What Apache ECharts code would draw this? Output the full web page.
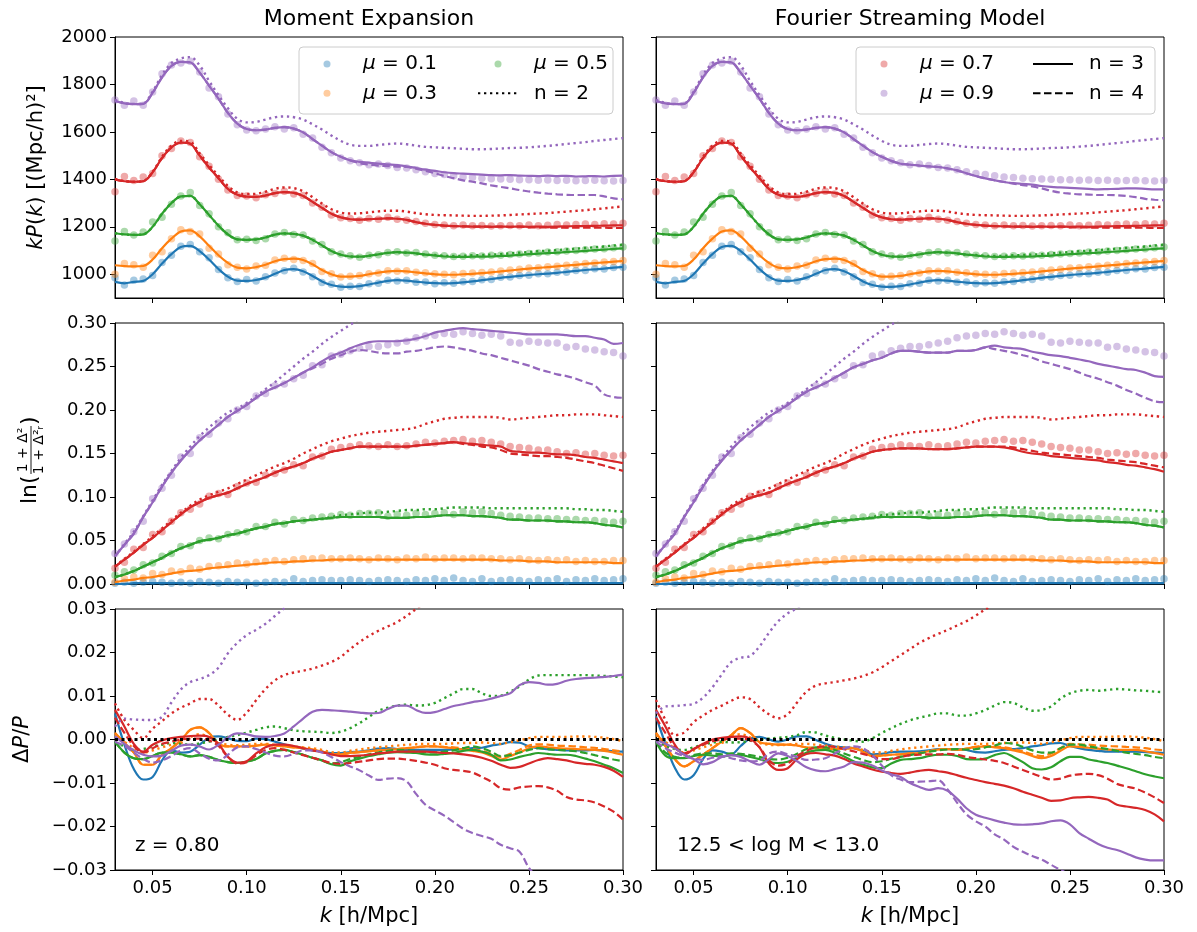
<!DOCTYPE html>
<html>
<head>
<meta charset="utf-8">
<script src="https://cdn.jsdelivr.net/npm/echarts@6/dist/echarts.min.js"></script>
<style>
  html, body { margin: 0; padding: 0; background: #fff; }
  #chart { width: 1197px; height: 932px; }
</style>
</head>
<body>
<div id="chart"></div>
<script>
// k grid [h/Mpc]
const K = [
  0.030, 0.035, 0.040, 0.045, 0.050, 0.055, 0.060, 0.065, 0.070, 0.075, 0.080,
  0.085, 0.090, 0.095, 0.100, 0.105, 0.110, 0.115, 0.120, 0.125, 0.130, 0.135,
  0.140, 0.145, 0.150, 0.155, 0.160, 0.165, 0.170, 0.175, 0.180, 0.185, 0.190,
  0.195, 0.200, 0.205, 0.210, 0.215, 0.220, 0.225, 0.230, 0.235, 0.240, 0.245,
  0.250, 0.255, 0.260, 0.265, 0.270, 0.275, 0.280, 0.285, 0.290, 0.295, 0.300
];

const X_TICKS = [0.05, 0.10, 0.15, 0.20, 0.25, 0.30];
const KP_TICKS = [1000, 1200, 1400, 1600, 1800, 2000];
const LN_TICKS = [0, 0.05, 0.10, 0.15, 0.20, 0.25, 0.30];
const DP_TICKS = [-0.03, -0.02, -0.01, 0, 0.01, 0.02, 0.03];

// ---- kP(k): simulation points ----
const kp_pts_01 = [
  985, 955, 975, 980, 995, 1050, 1080, 1118, 1125, 1095, 1070,
  1020, 985, 970, 978, 972, 990, 1005, 1015, 1025, 1010, 990,
  965, 958, 945, 950, 948, 960, 962, 975, 972, 975, 966,
  967, 960, 964, 962, 968, 970, 977, 978, 987, 988, 995,
  996, 1002, 1002, 1008, 1009, 1016, 1016, 1023, 1022, 1029, 1030
];
const kp_pts_03 = [
  1000, 1045, 1040, 1030, 1080, 1095, 1150, 1188, 1180, 1170, 1110,
  1085, 1040, 1030, 1022, 1035, 1038, 1060, 1068, 1062, 1058, 1045,
  1012, 1002, 988, 992, 995, 1002, 1005, 1015, 1013, 1015, 1008,
  1006, 1002, 1000, 998, 1003, 1005, 1007, 1010, 1014, 1018, 1021,
  1026, 1028, 1032, 1034, 1038, 1041, 1045, 1048, 1052, 1054, 1058
];
const kp_pts_05 = [
  1140, 1180, 1165, 1178, 1220, 1240, 1295, 1330, 1345, 1290, 1255,
  1200, 1175, 1145, 1148, 1142, 1150, 1170, 1176, 1168, 1165, 1140,
  1125, 1095, 1085, 1078, 1072, 1080, 1082, 1092, 1095, 1090, 1092,
  1085, 1080, 1078, 1075, 1076, 1078, 1077, 1080, 1080, 1083, 1085,
  1088, 1090, 1094, 1095, 1098, 1100, 1103, 1106, 1108, 1112, 1115
];
const kp_pts_07 = [
  1348, 1412, 1395, 1410, 1425, 1500, 1530, 1562, 1555, 1495, 1455,
  1400, 1355, 1332, 1330, 1322, 1335, 1340, 1350, 1338, 1332, 1300,
  1282, 1250, 1238, 1235, 1228, 1235, 1232, 1240, 1232, 1228, 1222,
  1215, 1210, 1208, 1205, 1208, 1204, 1206, 1203, 1205, 1206, 1204,
  1208, 1205, 1207, 1210, 1208, 1210, 1212, 1210, 1213, 1212, 1215
];
const kp_pts_09 = [
  1735, 1712, 1730, 1712, 1768, 1845, 1882, 1890, 1898, 1852, 1785,
  1748, 1675, 1630, 1608, 1605, 1612, 1622, 1612, 1618, 1590, 1574,
  1535, 1512, 1490, 1478, 1470, 1462, 1465, 1458, 1450, 1448, 1440,
  1432, 1425, 1420, 1415, 1410, 1408, 1405, 1403, 1402, 1400, 1398,
  1398, 1396, 1397, 1395, 1396, 1394, 1395, 1396, 1394, 1393, 1395
];

// ---- kP(k): models ----
const kp_n3_01 = [
  968, 962, 968, 972, 1000, 1045, 1085, 1115, 1120, 1098, 1062,
  1022, 990, 973, 972, 976, 986, 1002, 1018, 1022, 1013, 993,
  970, 955, 948, 947, 950, 957, 965, 972, 975, 973, 969,
  965, 963, 962, 963, 966, 970, 975, 980, 985, 989, 993,
  997, 1000, 1003, 1006, 1010, 1014, 1018, 1021, 1024, 1028, 1031
];
const kp_n3_03 = [
  1038, 1034, 1033, 1035, 1062, 1110, 1150, 1180, 1185, 1160, 1120,
  1080, 1048, 1028, 1025, 1030, 1040, 1055, 1064, 1066, 1060, 1042,
  1018, 1000, 990, 990, 993, 1000, 1007, 1012, 1014, 1012, 1008,
  1004, 1000, 998, 998, 1000, 1002, 1005, 1008, 1012, 1016, 1020,
  1024, 1027, 1030, 1033, 1037, 1040, 1044, 1047, 1050, 1053, 1056
];
const kp_n3_05 = [
  1173, 1168, 1166, 1168, 1200, 1255, 1300, 1328, 1330, 1295, 1250,
  1205, 1168, 1147, 1145, 1147, 1155, 1167, 1172, 1170, 1163, 1145,
  1122, 1098, 1082, 1075, 1074, 1078, 1084, 1090, 1093, 1091, 1088,
  1083, 1079, 1075, 1073, 1073, 1074, 1074, 1075, 1077, 1079, 1082,
  1085, 1087, 1089, 1091, 1094, 1096, 1099, 1102, 1104, 1107, 1109
];
const kp_n2_05 = [
  1173, 1168, 1166, 1168, 1200, 1255, 1300, 1328, 1330, 1295, 1250,
  1205, 1168, 1147, 1145, 1147, 1155, 1167, 1172, 1170, 1163, 1145,
  1122, 1098, 1082, 1075, 1074, 1078, 1084, 1090, 1093, 1091, 1088,
  1083, 1081, 1078, 1077, 1078, 1080, 1081, 1083, 1085, 1088, 1091,
  1094, 1097, 1099, 1102, 1105, 1108, 1111, 1114, 1117, 1121, 1125
];
const kp_n3_07 = [
  1400, 1392, 1390, 1392, 1430, 1490, 1535, 1555, 1550, 1500, 1450,
  1405, 1360, 1335, 1327, 1326, 1332, 1342, 1346, 1343, 1330, 1305,
  1280, 1255, 1240, 1232, 1230, 1232, 1234, 1236, 1234, 1229, 1220,
  1213, 1208, 1205, 1203, 1202, 1201, 1201, 1200, 1201, 1200, 1201,
  1200, 1201, 1200, 1201, 1202, 1203, 1203, 1204, 1205, 1206, 1206
];
const kp_n2_07 = [
  1402, 1393, 1390, 1393, 1432, 1495, 1542, 1562, 1558, 1510, 1460,
  1415, 1372, 1345, 1338, 1339, 1348, 1360, 1366, 1363, 1350, 1325,
  1298, 1274, 1260, 1256, 1257, 1261, 1265, 1268, 1268, 1264, 1258,
  1253, 1250, 1249, 1248, 1247, 1246, 1246, 1247, 1248, 1250, 1252,
  1254, 1256, 1258, 1261, 1264, 1267, 1270, 1274, 1278, 1282, 1286
];
const kp_n4_07 = [
  1400, 1392, 1390, 1392, 1430, 1490, 1535, 1555, 1550, 1500, 1450,
  1405, 1360, 1335, 1327, 1326, 1332, 1342, 1346, 1343, 1330, 1305,
  1280, 1255, 1240, 1232, 1230, 1232, 1234, 1236, 1234, 1229, 1220,
  1213, 1208, 1205, 1203, 1202, 1201, 1201, 1200, 1201, 1200, 1201,
  1198, 1198, 1197, 1197, 1197, 1197, 1196, 1196, 1196, 1195, 1195
];
const kp_n3_09_me = [
  1730, 1720, 1717, 1718, 1765, 1830, 1878, 1895, 1893, 1850, 1795,
  1740, 1680, 1635, 1612, 1607, 1610, 1617, 1620, 1614, 1598, 1570,
  1542, 1515, 1495, 1480, 1474, 1470, 1466, 1463, 1460, 1455, 1448,
  1441, 1436, 1430, 1426, 1424, 1422, 1420, 1418, 1417, 1418, 1416,
  1415, 1414, 1416, 1414, 1415, 1412, 1413, 1414, 1412, 1415, 1416
];
const kp_n3_09_fs = [
  1730, 1720, 1717, 1718, 1765, 1830, 1878, 1895, 1893, 1850, 1795,
  1740, 1680, 1635, 1612, 1607, 1610, 1617, 1620, 1614, 1598, 1570,
  1542, 1515, 1495, 1478, 1466, 1462, 1458, 1455, 1452, 1446, 1438,
  1426, 1414, 1404, 1396, 1389, 1384, 1381, 1378, 1372, 1368, 1366,
  1364, 1362, 1360, 1358, 1359, 1360, 1362, 1362, 1360, 1358, 1358
];
const kp_n2_09 = [
  1735, 1722, 1718, 1720, 1770, 1840, 1890, 1910, 1915, 1880, 1815,
  1755, 1700, 1655, 1640, 1642, 1652, 1662, 1665, 1662, 1652, 1632,
  1610, 1585, 1562, 1546, 1541, 1541, 1545, 1549, 1551, 1548, 1542,
  1537, 1535, 1533, 1531, 1529, 1527, 1527, 1528, 1530, 1532, 1533,
  1535, 1538, 1541, 1545, 1549, 1553, 1557, 1562, 1566, 1570, 1574
];
const kp_n4_09_me = [
  1730, 1720, 1717, 1718, 1765, 1830, 1878, 1895, 1893, 1850, 1795,
  1740, 1680, 1635, 1612, 1607, 1610, 1617, 1620, 1614, 1598, 1570,
  1542, 1515, 1495, 1480, 1468, 1462, 1458, 1456, 1454, 1452, 1445,
  1436, 1426, 1414, 1405, 1396, 1390, 1383, 1375, 1368, 1362, 1355,
  1349, 1344, 1340, 1337, 1335, 1334, 1334, 1334, 1328, 1320, 1316
];
const kp_n4_09_fs = [
  1730, 1720, 1717, 1718, 1765, 1830, 1878, 1895, 1893, 1850, 1795,
  1740, 1680, 1635, 1612, 1607, 1610, 1617, 1620, 1614, 1598, 1570,
  1542, 1515, 1495, 1478, 1466, 1462, 1458, 1455, 1452, 1446, 1438,
  1426, 1414, 1404, 1396, 1389, 1382, 1376, 1370, 1362, 1352, 1344,
  1340, 1337, 1336, 1334, 1334, 1333, 1330, 1325, 1318, 1314, 1312
];

// ---- ln((1+D^2)/(1+Dr^2)): simulation points ----
const ln_pts_01 = [
  0.001, 0.002, 0.001, 0.002, 0.003, 0.002, 0.001, 0.002, 0.001, 0.003, 0.002,
  0.001, 0.003, 0.002, 0.002, 0.001, 0.002, 0.003, 0.002, 0.006, 0.003, 0.004,
  0.005, 0.004, 0.004, 0.005, 0.004, 0.003, 0.004, 0.005, 0.004, 0.003, 0.005,
  0.004, 0.006, 0.004, 0.007, 0.004, 0.003, 0.006, 0.003, 0.004, 0.005, 0.004,
  0.003, 0.005, 0.004, 0.006, 0.003, 0.005, 0.004, 0.006, 0.004, 0.005, 0.006
];
const ln_pts_03 = [
  0.002, 0.006, 0.008, 0.007, 0.012, 0.011, 0.015, 0.014, 0.018, 0.017, 0.020,
  0.021, 0.022, 0.024, 0.023, 0.025, 0.026, 0.027, 0.026, 0.028, 0.029, 0.029,
  0.030, 0.029, 0.029, 0.030, 0.029, 0.028, 0.030, 0.029, 0.028, 0.030, 0.029,
  0.031, 0.029, 0.030, 0.030, 0.029, 0.030, 0.030, 0.029, 0.029, 0.028, 0.029,
  0.028, 0.027, 0.028, 0.027, 0.028, 0.026, 0.027, 0.026, 0.026, 0.027, 0.027
];
const ln_pts_05 = [
  0.010, 0.014, 0.016, 0.022, 0.024, 0.032, 0.035, 0.043, 0.044, 0.050, 0.053,
  0.052, 0.057, 0.059, 0.060, 0.066, 0.066, 0.071, 0.069, 0.074, 0.073, 0.076,
  0.077, 0.078, 0.080, 0.079, 0.081, 0.081, 0.082, 0.078, 0.080, 0.079, 0.081,
  0.080, 0.081, 0.082, 0.080, 0.083, 0.082, 0.083, 0.081, 0.079, 0.078, 0.077,
  0.076, 0.076, 0.075, 0.075, 0.074, 0.074, 0.073, 0.073, 0.072, 0.071, 0.072
];
const ln_pts_07 = [
  0.018, 0.025, 0.040, 0.042, 0.057, 0.060, 0.072, 0.082, 0.086, 0.092, 0.101,
  0.104, 0.103, 0.112, 0.116, 0.117, 0.125, 0.127, 0.131, 0.137, 0.136, 0.146,
  0.147, 0.155, 0.157, 0.158, 0.160, 0.159, 0.158, 0.160, 0.158, 0.159, 0.161,
  0.163, 0.162, 0.164, 0.165, 0.166, 0.164, 0.165, 0.163, 0.161, 0.158, 0.157,
  0.156, 0.154, 0.154, 0.152, 0.150, 0.151, 0.149, 0.150, 0.148, 0.147, 0.148
];
const ln_pts_09 = [
  0.035, 0.046, 0.060, 0.072, 0.098, 0.110, 0.125, 0.146, 0.150, 0.168, 0.172,
  0.185, 0.190, 0.200, 0.204, 0.216, 0.219, 0.228, 0.230, 0.236, 0.240, 0.251,
  0.252, 0.262, 0.264, 0.268, 0.271, 0.273, 0.273, 0.275, 0.277, 0.279, 0.283,
  0.285, 0.286, 0.288, 0.287, 0.290, 0.288, 0.286, 0.287, 0.285, 0.278, 0.277,
  0.279, 0.278, 0.277, 0.277, 0.272, 0.273, 0.270, 0.269, 0.267, 0.266, 0.262
];

// ---- ln ratio: models ----
const ln_n3_01 = [
  0.000, 0.000, 0.001, 0.001, 0.001, 0.001, 0.001, 0.001, 0.001, 0.001, 0.001,
  0.001, 0.001, 0.001, 0.001, 0.001, 0.001, 0.001, 0.001, 0.001, 0.001, 0.001,
  0.001, 0.001, 0.001, 0.001, 0.001, 0.001, 0.001, 0.001, 0.001, 0.001, 0.001,
  0.001, 0.001, 0.001, 0.001, 0.001, 0.001, 0.001, 0.001, 0.001, 0.001, 0.001,
  0.001, 0.001, 0.001, 0.001, 0.001, 0.001, 0.001, 0.001, 0.001, 0.001, 0.001
];
const ln_n3_03 = [
  0.002, 0.004, 0.005, 0.007, 0.008, 0.010, 0.012, 0.014, 0.015, 0.016, 0.018,
  0.019, 0.020, 0.021, 0.022, 0.023, 0.024, 0.025, 0.025, 0.026, 0.026, 0.027,
  0.027, 0.028, 0.028, 0.028, 0.028, 0.028, 0.028, 0.028, 0.028, 0.028, 0.028,
  0.028, 0.028, 0.028, 0.028, 0.028, 0.028, 0.028, 0.028, 0.027, 0.027, 0.027,
  0.026, 0.026, 0.026, 0.025, 0.025, 0.025, 0.025, 0.025, 0.025, 0.024, 0.024
];
const ln_n3_05 = [
  0.008, 0.011, 0.015, 0.020, 0.025, 0.030, 0.036, 0.041, 0.045, 0.049, 0.051,
  0.053, 0.056, 0.058, 0.061, 0.064, 0.066, 0.069, 0.070, 0.072, 0.073, 0.074,
  0.075, 0.076, 0.077, 0.077, 0.077, 0.077, 0.077, 0.076, 0.076, 0.076, 0.077,
  0.077, 0.078, 0.079, 0.079, 0.079, 0.078, 0.078, 0.077, 0.076, 0.074, 0.074,
  0.073, 0.073, 0.073, 0.072, 0.072, 0.071, 0.071, 0.070, 0.068, 0.067, 0.065
];
const ln_n2_05 = [
  0.008, 0.011, 0.015, 0.020, 0.025, 0.030, 0.036, 0.041, 0.045, 0.049, 0.051,
  0.053, 0.056, 0.058, 0.061, 0.064, 0.066, 0.069, 0.070, 0.072, 0.073, 0.074,
  0.075, 0.077, 0.079, 0.080, 0.081, 0.082, 0.082, 0.083, 0.084, 0.085, 0.085,
  0.086, 0.086, 0.087, 0.088, 0.088, 0.088, 0.088, 0.087, 0.087, 0.087, 0.087,
  0.087, 0.087, 0.087, 0.087, 0.087, 0.086, 0.086, 0.085, 0.085, 0.084, 0.083
];
const ln_n3_07_me = [
  0.020, 0.028, 0.036, 0.045, 0.053, 0.062, 0.071, 0.080, 0.088, 0.094, 0.099,
  0.102, 0.105, 0.110, 0.115, 0.119, 0.123, 0.128, 0.132, 0.135, 0.139, 0.144,
  0.148, 0.152, 0.154, 0.156, 0.158, 0.158, 0.158, 0.158, 0.158, 0.158, 0.159,
  0.160, 0.161, 0.162, 0.163, 0.162, 0.161, 0.160, 0.159, 0.158, 0.153, 0.152,
  0.151, 0.151, 0.150, 0.149, 0.149, 0.148, 0.146, 0.145, 0.143, 0.141, 0.139
];
const ln_n4_07_me = [
  0.020, 0.028, 0.036, 0.045, 0.053, 0.062, 0.071, 0.080, 0.088, 0.094, 0.099,
  0.102, 0.105, 0.110, 0.115, 0.119, 0.123, 0.128, 0.132, 0.135, 0.139, 0.144,
  0.148, 0.152, 0.154, 0.156, 0.158, 0.158, 0.158, 0.158, 0.158, 0.158, 0.159,
  0.160, 0.161, 0.162, 0.163, 0.161, 0.160, 0.158, 0.157, 0.154, 0.150, 0.149,
  0.148, 0.147, 0.147, 0.146, 0.145, 0.143, 0.141, 0.139, 0.136, 0.133, 0.130
];
const ln_n3_07_fs = [
  0.020, 0.028, 0.036, 0.045, 0.053, 0.062, 0.071, 0.080, 0.088, 0.094, 0.099,
  0.102, 0.105, 0.110, 0.115, 0.119, 0.123, 0.128, 0.132, 0.135, 0.139, 0.144,
  0.148, 0.152, 0.154, 0.155, 0.156, 0.156, 0.156, 0.155, 0.155, 0.155, 0.156,
  0.157, 0.158, 0.158, 0.158, 0.157, 0.155, 0.152, 0.150, 0.149, 0.147, 0.146,
  0.145, 0.144, 0.143, 0.142, 0.140, 0.139, 0.137, 0.136, 0.134, 0.132, 0.129
];
const ln_n4_07_fs = [
  0.020, 0.028, 0.036, 0.045, 0.053, 0.062, 0.071, 0.080, 0.088, 0.094, 0.099,
  0.102, 0.105, 0.110, 0.115, 0.119, 0.123, 0.128, 0.132, 0.135, 0.139, 0.144,
  0.148, 0.152, 0.154, 0.155, 0.156, 0.156, 0.156, 0.155, 0.155, 0.155, 0.156,
  0.157, 0.158, 0.158, 0.158, 0.158, 0.157, 0.155, 0.153, 0.151, 0.150, 0.149,
  0.148, 0.147, 0.146, 0.145, 0.143, 0.142, 0.141, 0.140, 0.138, 0.136, 0.134
];
const ln_n2_07 = [
  0.020, 0.029, 0.037, 0.046, 0.055, 0.064, 0.073, 0.082, 0.090, 0.097, 0.102,
  0.106, 0.110, 0.115, 0.120, 0.125, 0.130, 0.135, 0.139, 0.144, 0.150, 0.155,
  0.160, 0.164, 0.167, 0.170, 0.172, 0.174, 0.175, 0.176, 0.177, 0.178, 0.180,
  0.184, 0.187, 0.190, 0.191, 0.192, 0.192, 0.192, 0.192, 0.191, 0.189, 0.190,
  0.191, 0.192, 0.193, 0.194, 0.194, 0.195, 0.195, 0.195, 0.194, 0.193, 0.192
];
const ln_n3_09_me = [
  0.032, 0.045, 0.058, 0.077, 0.094, 0.112, 0.128, 0.142, 0.154, 0.165, 0.174,
  0.183, 0.192, 0.199, 0.206, 0.214, 0.221, 0.226, 0.231, 0.237, 0.243, 0.249,
  0.256, 0.262, 0.266, 0.271, 0.275, 0.278, 0.279, 0.279, 0.279, 0.280, 0.282,
  0.285, 0.289, 0.291, 0.293, 0.294, 0.293, 0.292, 0.291, 0.290, 0.289, 0.288,
  0.287, 0.287, 0.287, 0.287, 0.286, 0.285, 0.285, 0.283, 0.281, 0.276, 0.277
];
const ln_n4_09_me = [
  0.032, 0.045, 0.058, 0.077, 0.094, 0.112, 0.128, 0.142, 0.154, 0.165, 0.174,
  0.183, 0.192, 0.199, 0.206, 0.214, 0.221, 0.226, 0.231, 0.237, 0.243, 0.248,
  0.253, 0.259, 0.263, 0.267, 0.269, 0.268, 0.266, 0.265, 0.265, 0.267, 0.268,
  0.270, 0.272, 0.273, 0.272, 0.270, 0.268, 0.265, 0.263, 0.260, 0.257, 0.254,
  0.251, 0.247, 0.244, 0.241, 0.239, 0.236, 0.232, 0.228, 0.218, 0.215, 0.214
];
const ln_n3_09_fs = [
  0.032, 0.045, 0.058, 0.077, 0.094, 0.112, 0.128, 0.142, 0.154, 0.165, 0.174,
  0.183, 0.192, 0.199, 0.206, 0.214, 0.221, 0.226, 0.231, 0.237, 0.243, 0.249,
  0.253, 0.257, 0.260, 0.265, 0.268, 0.268, 0.267, 0.266, 0.266, 0.266, 0.268,
  0.268, 0.269, 0.272, 0.274, 0.272, 0.271, 0.270, 0.267, 0.265, 0.263, 0.262,
  0.260, 0.258, 0.256, 0.253, 0.251, 0.249, 0.247, 0.246, 0.243, 0.239, 0.238
];
const ln_n4_09_fs = [
  0.032, 0.045, 0.058, 0.077, 0.094, 0.112, 0.128, 0.142, 0.154, 0.165, 0.174,
  0.183, 0.192, 0.199, 0.206, 0.214, 0.221, 0.226, 0.231, 0.237, 0.243, 0.249,
  0.253, 0.257, 0.260, 0.265, 0.268, 0.268, 0.267, 0.266, 0.266, 0.266, 0.268,
  0.268, 0.269, 0.272, 0.270, 0.268, 0.266, 0.263, 0.260, 0.256, 0.253, 0.250,
  0.247, 0.243, 0.239, 0.236, 0.232, 0.228, 0.223, 0.219, 0.214, 0.210, 0.209
];
const ln_n2_09 = [
  0.032, 0.046, 0.060, 0.078, 0.096, 0.114, 0.130, 0.145, 0.158, 0.170, 0.180,
  0.189, 0.197, 0.202, 0.208, 0.216, 0.224, 0.232, 0.241, 0.250, 0.259, 0.267,
  0.276, 0.284, 0.291, 0.298, 0.305, 0.312
];

// ---- Delta P / P: Moment Expansion ----
const dp_n3_01_me = [
  0.0060, -0.0012, -0.0068, -0.0092, -0.0086, -0.0048, -0.0025, -0.0030, -0.0028, -0.0012, 0.0004,
  0.0007, 0.0003, -0.0003, -0.0004, 0.0002, 0.0001, -0.0005, -0.0011, -0.0016, -0.0021, -0.0025,
  -0.0028, -0.0031, -0.0031, -0.0029, -0.0028, -0.0025, -0.0021, -0.0020, -0.0022, -0.0024, -0.0024,
  -0.0024, -0.0024, -0.0024, -0.0023, -0.0022, -0.0020, -0.0019, -0.0014, -0.0011, -0.0006, -0.0007,
  -0.0016, -0.0020, -0.0022, -0.0024, -0.0025, -0.0025, -0.0025, -0.0024, -0.0025, -0.0027, -0.0028
];
const dp_n3_03_me = [
  0.0015, -0.0008, -0.0030, -0.0058, -0.0058, -0.0035, -0.0020, -0.0002, 0.0022, 0.0028, 0.0015,
  -0.0010, -0.0016, -0.0016, -0.0016, -0.0014, -0.0012, -0.0014, -0.0016, -0.0018, -0.0020, -0.0023,
  -0.0028, -0.0034, -0.0034, -0.0031, -0.0029, -0.0027, -0.0025, -0.0024, -0.0022, -0.0020, -0.0018,
  -0.0016, -0.0016, -0.0018, -0.0020, -0.0023, -0.0026, -0.0030, -0.0038, -0.0046, -0.0038, -0.0030,
  -0.0020, -0.0016, -0.0018, -0.0020, -0.0021, -0.0022, -0.0023, -0.0024, -0.0026, -0.0030, -0.0035
];
const dp_n4_03_me = [
  0.0015, -0.0008, -0.0030, -0.0058, -0.0058, -0.0035, -0.0020, -0.0002, 0.0022, 0.0028, 0.0015,
  -0.0010, -0.0016, -0.0016, -0.0016, -0.0014, -0.0012, -0.0014, -0.0016, -0.0018, -0.0020, -0.0023,
  -0.0028, -0.0034, -0.0034, -0.0031, -0.0029, -0.0027, -0.0025, -0.0024, -0.0022, -0.0020, -0.0018,
  -0.0016, -0.0016, -0.0017, -0.0018, -0.0020, -0.0022, -0.0026, -0.0033, -0.0040, -0.0033, -0.0024,
  -0.0014, -0.0011, -0.0012, -0.0014, -0.0015, -0.0016, -0.0018, -0.0019, -0.0022, -0.0025, -0.0028
];
const dp_n2_03 = [
  0.0010, -0.0005, -0.0020, -0.0030, -0.0025, -0.0018, -0.0012, -0.0008, 0.0005, 0.0012, 0.0005,
  -0.0008, -0.0012, -0.0013, -0.0012, -0.0010, -0.0010, -0.0012, -0.0014, -0.0016, -0.0018, -0.0020,
  -0.0024, -0.0029, -0.0030, -0.0026, -0.0023, -0.0020, -0.0018, -0.0016, -0.0014, -0.0012, -0.0011,
  -0.0010, -0.0010, -0.0010, -0.0009, -0.0008, -0.0008, -0.0007, -0.0008, -0.0010, -0.0006, -0.0002,
  0.0003, 0.0006, 0.0006, 0.0006, 0.0006, 0.0007, 0.0007, 0.0006, 0.0004, 0.0001, -0.0004
];
const dp_n3_05_me = [
  -0.0005, -0.0030, -0.0043, -0.0045, -0.0038, -0.0030, -0.0030, -0.0034, -0.0039, -0.0036, -0.0040,
  -0.0047, -0.0052, -0.0054, -0.0051, -0.0045, -0.0032, -0.0026, -0.0024, -0.0029, -0.0035, -0.0042,
  -0.0048, -0.0057, -0.0060, -0.0050, -0.0044, -0.0038, -0.0034, -0.0030, -0.0029, -0.0030, -0.0031,
  -0.0034, -0.0035, -0.0033, -0.0031, -0.0026, -0.0024, -0.0028, -0.0035, -0.0048, -0.0046, -0.0040,
  -0.0035, -0.0031, -0.0033, -0.0035, -0.0035, -0.0038, -0.0044, -0.0050, -0.0058, -0.0066, -0.0077
];
const dp_n4_05_me = [
  -0.0005, -0.0030, -0.0043, -0.0045, -0.0038, -0.0030, -0.0030, -0.0034, -0.0039, -0.0036, -0.0040,
  -0.0047, -0.0052, -0.0054, -0.0051, -0.0045, -0.0032, -0.0026, -0.0024, -0.0029, -0.0035, -0.0042,
  -0.0048, -0.0055, -0.0052, -0.0045, -0.0040, -0.0034, -0.0030, -0.0026, -0.0024, -0.0025, -0.0027,
  -0.0029, -0.0030, -0.0028, -0.0025, -0.0020, -0.0016, -0.0020, -0.0028, -0.0038, -0.0036, -0.0030,
  -0.0024, -0.0020, -0.0022, -0.0024, -0.0025, -0.0027, -0.0031, -0.0036, -0.0041, -0.0046, -0.0050
];
const dp_n2_05_me = [
  -0.0008, -0.0015, -0.0024, -0.0022, -0.0016, -0.0012, -0.0008, -0.0010, -0.0012, -0.0009, -0.0005,
  0.0000, 0.0006, 0.0010, 0.0016, 0.0022, 0.0028, 0.0030, 0.0026, 0.0021, 0.0019, 0.0018,
  0.0017, 0.0015, 0.0018, 0.0026, 0.0038, 0.0052, 0.0066, 0.0073, 0.0078, 0.0080, 0.0078,
  0.0079, 0.0084, 0.0095, 0.0106, 0.0116, 0.0116, 0.0106, 0.0100, 0.0101, 0.0110, 0.0122,
  0.0138, 0.0147, 0.0148, 0.0148, 0.0148, 0.0148, 0.0148, 0.0147, 0.0146, 0.0145, 0.0143
];
const dp_n3_07_me = [
  0.0068, 0.0030, -0.0010, -0.0028, -0.0012, -0.0002, 0.0003, 0.0006, 0.0008, 0.0009, 0.0006,
  -0.0010, -0.0040, -0.0053, -0.0050, -0.0032, -0.0018, -0.0012, -0.0012, -0.0015, -0.0020, -0.0025,
  -0.0029, -0.0034, -0.0038, -0.0038, -0.0037, -0.0035, -0.0032, -0.0030, -0.0028, -0.0028, -0.0028,
  -0.0028, -0.0029, -0.0031, -0.0032, -0.0034, -0.0037, -0.0042, -0.0049, -0.0058, -0.0065, -0.0063,
  -0.0055, -0.0047, -0.0043, -0.0045, -0.0048, -0.0053, -0.0056, -0.0058, -0.0063, -0.0072, -0.0086
];
const dp_n4_07_me = [
  0.0050, 0.0015, -0.0015, -0.0030, -0.0020, -0.0010, -0.0005, 0.0000, 0.0002, 0.0002, -0.0002,
  -0.0015, -0.0040, -0.0055, -0.0052, -0.0036, -0.0024, -0.0020, -0.0024, -0.0030, -0.0036, -0.0042,
  -0.0048, -0.0054, -0.0056, -0.0054, -0.0051, -0.0048, -0.0045, -0.0044, -0.0044, -0.0046, -0.0049,
  -0.0053, -0.0058, -0.0066, -0.0070, -0.0072, -0.0076, -0.0086, -0.0097, -0.0112, -0.0115, -0.0110,
  -0.0108, -0.0107, -0.0110, -0.0118, -0.0132, -0.0138, -0.0140, -0.0145, -0.0154, -0.0166, -0.0184
];
const dp_n2_07_me = [
  0.0083, 0.0045, 0.0022, 0.0003, 0.0025, 0.0042, 0.0060, 0.0073, 0.0083, 0.0093, 0.0093,
  0.0078, 0.0057, 0.0045, 0.0062, 0.0090, 0.0116, 0.0136, 0.0148, 0.0154, 0.0158, 0.0163,
  0.0170, 0.0178, 0.0190, 0.0208, 0.0224, 0.0238, 0.0250, 0.0260, 0.0270, 0.0284, 0.0300,
  0.0315
];
const dp_n3_09_me = [
  0.0007, -0.0010, -0.0025, -0.0035, -0.0039, -0.0037, -0.0026, -0.0014, -0.0012, -0.0016, -0.0023,
  -0.0012, 0.0005, 0.0014, 0.0012, 0.0007, 0.0006, 0.0008, 0.0014, 0.0030, 0.0048, 0.0064,
  0.0068, 0.0067, 0.0066, 0.0064, 0.0062, 0.0060, 0.0061, 0.0070, 0.0078, 0.0078, 0.0068,
  0.0061, 0.0063, 0.0070, 0.0077, 0.0081, 0.0086, 0.0089, 0.0094, 0.0100, 0.0106, 0.0125,
  0.0132, 0.0130, 0.0126, 0.0128, 0.0135, 0.0139, 0.0141, 0.0142, 0.0144, 0.0146, 0.0149
];
const dp_n4_09_me = [
  -0.0005, -0.0015, -0.0030, -0.0045, -0.0053, -0.0048, -0.0038, -0.0025, -0.0020, -0.0032, -0.0044,
  -0.0048, -0.0035, -0.0018, -0.0016, -0.0022, -0.0030, -0.0037, -0.0039, -0.0033, -0.0025, -0.0025,
  -0.0030, -0.0040, -0.0052, -0.0062, -0.0071, -0.0083, -0.0093, -0.0090, -0.0089, -0.0096, -0.0125,
  -0.0150, -0.0163, -0.0175, -0.0190, -0.0205, -0.0215, -0.0222, -0.0228, -0.0242, -0.0250, -0.0258,
  -0.0295, -0.0320
];
const dp_n2_09_me = [
  0.0030, 0.0048, 0.0046, 0.0045, 0.0045, 0.0052, 0.0085, 0.0115, 0.0132, 0.0139, 0.0148,
  0.0165, 0.0198, 0.0222, 0.0240, 0.0252, 0.0266, 0.0284, 0.0302, 0.0320
];

// ---- Delta P / P: Fourier Streaming Model ----
const dp_n3_01_fs = [
  0.0053, -0.0010, -0.0065, -0.0092, -0.0082, -0.0045, -0.0025, -0.0028, -0.0034, -0.0015, 0.0002,
  0.0006, 0.0000, -0.0005, 0.0000, 0.0007, 0.0007, -0.0001, -0.0010, -0.0016, -0.0018, -0.0020,
  -0.0026, -0.0034, -0.0033, -0.0029, -0.0028, -0.0028, -0.0027, -0.0025, -0.0022, -0.0022, -0.0022,
  -0.0024, -0.0029, -0.0030, -0.0027, -0.0024, -0.0022, -0.0020, -0.0016, -0.0013, -0.0009, -0.0008,
  -0.0015, -0.0020, -0.0024, -0.0026, -0.0028, -0.0028, -0.0028, -0.0028, -0.0029, -0.0030, -0.0031
];
const dp_n3_03_fs = [
  0.0015, -0.0015, -0.0045, -0.0062, -0.0050, -0.0035, -0.0020, -0.0005, 0.0010, 0.0026, 0.0015,
  -0.0006, -0.0010, -0.0012, -0.0012, -0.0014, -0.0018, -0.0020, -0.0021, -0.0022, -0.0021, -0.0020,
  -0.0028, -0.0038, -0.0037, -0.0035, -0.0034, -0.0032, -0.0031, -0.0027, -0.0023, -0.0022, -0.0024,
  -0.0021, -0.0017, -0.0016, -0.0018, -0.0020, -0.0025, -0.0030, -0.0038, -0.0043, -0.0038, -0.0026,
  -0.0016, -0.0017, -0.0019, -0.0021, -0.0023, -0.0024, -0.0024, -0.0024, -0.0027, -0.0031, -0.0035
];
const dp_n4_03_fs = [
  0.0015, -0.0015, -0.0045, -0.0062, -0.0050, -0.0035, -0.0020, -0.0005, 0.0010, 0.0026, 0.0015,
  -0.0006, -0.0010, -0.0012, -0.0012, -0.0014, -0.0018, -0.0020, -0.0021, -0.0022, -0.0021, -0.0020,
  -0.0028, -0.0038, -0.0037, -0.0035, -0.0034, -0.0032, -0.0031, -0.0027, -0.0023, -0.0022, -0.0024,
  -0.0021, -0.0017, -0.0015, -0.0016, -0.0018, -0.0022, -0.0027, -0.0034, -0.0038, -0.0032, -0.0020,
  -0.0010, -0.0011, -0.0012, -0.0014, -0.0015, -0.0016, -0.0017, -0.0018, -0.0020, -0.0023, -0.0025
];
const dp_n3_05_fs = [
  -0.0005, -0.0037, -0.0043, -0.0043, -0.0038, -0.0035, -0.0037, -0.0039, -0.0036, -0.0036, -0.0040,
  -0.0045, -0.0052, -0.0054, -0.0051, -0.0042, -0.0030, -0.0025, -0.0024, -0.0030, -0.0039, -0.0050,
  -0.0058, -0.0064, -0.0066, -0.0055, -0.0047, -0.0045, -0.0043, -0.0038, -0.0035, -0.0035, -0.0038,
  -0.0045, -0.0046, -0.0044, -0.0036, -0.0031, -0.0040, -0.0052, -0.0066, -0.0069, -0.0064, -0.0050,
  -0.0040, -0.0040, -0.0046, -0.0050, -0.0054, -0.0060, -0.0066, -0.0073, -0.0080, -0.0085, -0.0089
];
const dp_n4_05_fs = [
  -0.0005, -0.0030, -0.0040, -0.0042, -0.0036, -0.0032, -0.0032, -0.0034, -0.0032, -0.0033, -0.0036,
  -0.0040, -0.0045, -0.0046, -0.0042, -0.0033, -0.0022, -0.0018, -0.0018, -0.0024, -0.0032, -0.0040,
  -0.0047, -0.0052, -0.0050, -0.0044, -0.0040, -0.0036, -0.0032, -0.0028, -0.0025, -0.0023, -0.0022,
  -0.0023, -0.0022, -0.0018, -0.0014, -0.0008, -0.0010, -0.0017, -0.0025, -0.0030, -0.0030, -0.0020,
  -0.0012, -0.0012, -0.0016, -0.0019, -0.0022, -0.0026, -0.0030, -0.0033, -0.0036, -0.0040, -0.0043
];
const dp_n2_05_fs = [
  -0.0005, -0.0014, -0.0022, -0.0024, -0.0018, -0.0012, -0.0007, -0.0005, -0.0007, -0.0006, -0.0003,
  0.0000, 0.0002, 0.0004, 0.0006, 0.0010, 0.0017, 0.0016, 0.0009, 0.0004, 0.0000, -0.0003,
  -0.0005, 0.0003, 0.0015, 0.0026, 0.0036, 0.0044, 0.0050, 0.0055, 0.0060, 0.0060, 0.0055,
  0.0055, 0.0060, 0.0068, 0.0078, 0.0086, 0.0084, 0.0074, 0.0066, 0.0068, 0.0076, 0.0094,
  0.0106, 0.0112, 0.0114, 0.0112, 0.0114, 0.0116, 0.0115, 0.0113, 0.0112, 0.0110, 0.0109
];
const dp_n3_07_fs = [
  0.0068, 0.0030, -0.0012, -0.0034, -0.0022, -0.0010, 0.0000, 0.0004, 0.0006, 0.0007, 0.0002,
  -0.0018, -0.0055, -0.0070, -0.0066, -0.0045, -0.0033, -0.0031, -0.0034, -0.0037, -0.0045, -0.0055,
  -0.0062, -0.0069, -0.0074, -0.0077, -0.0079, -0.0076, -0.0072, -0.0070, -0.0073, -0.0076, -0.0082,
  -0.0088, -0.0093, -0.0098, -0.0102, -0.0106, -0.0112, -0.0120, -0.0127, -0.0134, -0.0141, -0.0140,
  -0.0135, -0.0133, -0.0132, -0.0134, -0.0138, -0.0150, -0.0154, -0.0157, -0.0162, -0.0172, -0.0188
];
const dp_n4_07_fs = [
  0.0050, 0.0015, -0.0018, -0.0032, -0.0022, -0.0012, -0.0004, 0.0000, 0.0002, 0.0002, -0.0002,
  -0.0018, -0.0048, -0.0060, -0.0055, -0.0038, -0.0026, -0.0018, -0.0016, -0.0017, -0.0022, -0.0027,
  -0.0033, -0.0039, -0.0045, -0.0045, -0.0040, -0.0036, -0.0035, -0.0034, -0.0034, -0.0033, -0.0035,
  -0.0040, -0.0043, -0.0046, -0.0049, -0.0054, -0.0062, -0.0070, -0.0078, -0.0086, -0.0092, -0.0090,
  -0.0083, -0.0080, -0.0079, -0.0082, -0.0090, -0.0102, -0.0108, -0.0113, -0.0122, -0.0133, -0.0146
];
const dp_n2_07_fs = [
  0.0091, 0.0045, 0.0010, 0.0016, 0.0040, 0.0055, 0.0068, 0.0078, 0.0089, 0.0097, 0.0093,
  0.0074, 0.0058, 0.0049, 0.0058, 0.0085, 0.0110, 0.0124, 0.0129, 0.0132, 0.0136, 0.0140,
  0.0146, 0.0154, 0.0166, 0.0180, 0.0194, 0.0208, 0.0222, 0.0233, 0.0243, 0.0252, 0.0262,
  0.0272, 0.0285, 0.0299, 0.0312
];
const dp_n3_09_fs = [
  0.0000, -0.0010, -0.0020, -0.0035, -0.0045, -0.0057, -0.0052, -0.0040, -0.0036, -0.0040, -0.0050,
  -0.0058, -0.0045, -0.0032, -0.0038, -0.0050, -0.0064, -0.0071, -0.0073, -0.0068, -0.0062, -0.0052,
  -0.0053, -0.0060, -0.0071, -0.0080, -0.0086, -0.0100, -0.0109, -0.0116, -0.0112, -0.0118, -0.0136,
  -0.0158, -0.0173, -0.0180, -0.0186, -0.0191, -0.0195, -0.0196, -0.0195, -0.0193, -0.0188, -0.0186,
  -0.0195, -0.0215, -0.0228, -0.0240, -0.0249, -0.0254, -0.0262, -0.0271, -0.0276, -0.0278, -0.0278
];
const dp_n4_09_fs = [
  -0.0005, -0.0020, -0.0030, -0.0038, -0.0044, -0.0047, -0.0042, -0.0039, -0.0043, -0.0048, -0.0050,
  -0.0049, -0.0032, -0.0028, -0.0034, -0.0040, -0.0047, -0.0046, -0.0043, -0.0032, -0.0021, -0.0016,
  -0.0020, -0.0036, -0.0060, -0.0082, -0.0092, -0.0098, -0.0097, -0.0096, -0.0094, -0.0115, -0.0145,
  -0.0172, -0.0188, -0.0200, -0.0218, -0.0230, -0.0247, -0.0258, -0.0268, -0.0276, -0.0288, -0.0300,
  -0.0310
];
const dp_n2_09_fs = [
  0.0060, 0.0076, 0.0077, 0.0079, 0.0082, 0.0096, 0.0120, 0.0150, 0.0178, 0.0188, 0.0192,
  0.0214, 0.0245, 0.0272, 0.0290, 0.0302, 0.0320
];

const MU_NAMES = ['μ = 0.1', 'μ = 0.3', 'μ = 0.5', 'μ = 0.7', 'μ = 0.9'];

// tab10 colours
const LINE_COLORS = ['#1f77b4', '#ff7f0e', '#2ca02c', '#d62728', '#9467bd'];
const DOT_COLORS = ['rgba(31,119,180,0.5)', 'rgba(255,127,14,0.5)', 'rgba(44,160,44,0.5)',
                    'rgba(214,39,40,0.5)', 'rgba(148,103,189,0.5)'];
const LINE_TYPES = {
  n2: { type: [2.3, 3.7], width: 2.4, cap: 'butt' },
  n3: { type: 'solid', width: 2.2 },
  n4: { type: [7.5, 3.5], width: 2.2 }
};
const FONT = 'DejaVu Sans';

const pair = arr => arr.map((v, i) => [K[i], v]);

// [mu index, order, values] per panel
const panels = [
  { dots: [kp_pts_01, kp_pts_03, kp_pts_05, kp_pts_07, kp_pts_09], lines: [
    [0, 'n3', kp_n3_01], [1, 'n3', kp_n3_03],
    [2, 'n2', kp_n2_05], [2, 'n3', kp_n3_05],
    [3, 'n2', kp_n2_07], [3, 'n3', kp_n3_07], [3, 'n4', kp_n4_07],
    [4, 'n2', kp_n2_09], [4, 'n3', kp_n3_09_me], [4, 'n4', kp_n4_09_me]] },
  { dots: [kp_pts_01, kp_pts_03, kp_pts_05, kp_pts_07, kp_pts_09], lines: [
    [0, 'n3', kp_n3_01], [1, 'n3', kp_n3_03],
    [2, 'n2', kp_n2_05], [2, 'n3', kp_n3_05],
    [3, 'n2', kp_n2_07], [3, 'n3', kp_n3_07], [3, 'n4', kp_n4_07],
    [4, 'n2', kp_n2_09], [4, 'n3', kp_n3_09_fs], [4, 'n4', kp_n4_09_fs]] },
  { dots: [ln_pts_01, ln_pts_03, ln_pts_05, ln_pts_07, ln_pts_09], lines: [
    [0, 'n3', ln_n3_01], [1, 'n3', ln_n3_03],
    [2, 'n2', ln_n2_05], [2, 'n3', ln_n3_05], [2, 'n4', ln_n3_05],
    [3, 'n2', ln_n2_07], [3, 'n3', ln_n3_07_me], [3, 'n4', ln_n4_07_me],
    [4, 'n2', ln_n2_09], [4, 'n3', ln_n3_09_me], [4, 'n4', ln_n4_09_me]] },
  { dots: [ln_pts_01, ln_pts_03, ln_pts_05, ln_pts_07, ln_pts_09], lines: [
    [0, 'n3', ln_n3_01], [1, 'n3', ln_n3_03],
    [2, 'n2', ln_n2_05], [2, 'n3', ln_n3_05], [2, 'n4', ln_n3_05],
    [3, 'n2', ln_n2_07], [3, 'n3', ln_n3_07_fs], [3, 'n4', ln_n4_07_fs],
    [4, 'n2', ln_n2_09], [4, 'n3', ln_n3_09_fs], [4, 'n4', ln_n4_09_fs]] },
  { dots: null, lines: [
    [0, 'n3', dp_n3_01_me],
    [1, 'n2', dp_n2_03], [1, 'n3', dp_n3_03_me], [1, 'n4', dp_n4_03_me],
    [2, 'n2', dp_n2_05_me], [2, 'n3', dp_n3_05_me], [2, 'n4', dp_n4_05_me],
    [3, 'n2', dp_n2_07_me], [3, 'n3', dp_n3_07_me], [3, 'n4', dp_n4_07_me],
    [4, 'n2', dp_n2_09_me], [4, 'n3', dp_n3_09_me], [4, 'n4', dp_n4_09_me]] },
  { dots: null, lines: [
    [0, 'n3', dp_n3_01_fs],
    [1, 'n2', dp_n2_03], [1, 'n3', dp_n3_03_fs], [1, 'n4', dp_n4_03_fs],
    [2, 'n2', dp_n2_05_fs], [2, 'n3', dp_n3_05_fs], [2, 'n4', dp_n4_05_fs],
    [3, 'n2', dp_n2_07_fs], [3, 'n3', dp_n3_07_fs], [3, 'n4', dp_n4_07_fs],
    [4, 'n2', dp_n2_09_fs], [4, 'n3', dp_n3_09_fs], [4, 'n4', dp_n4_09_fs]] }
];

const gridPos = [
  [115, 37, 508, 261], [656, 37, 508, 261],
  [115, 323, 508, 261], [656, 323, 508, 261],
  [115, 609, 508, 261], [656, 609, 508, 261]
];

const series = [];
panels.forEach((p, gi) => {
  for (let m = 0; m < 5; m++) {
    if (p.dots) {
      series.push({
        type: 'scatter', name: MU_NAMES[m], xAxisIndex: gi, yAxisIndex: gi,
        data: pair(p.dots[m]), symbol: 'circle', symbolSize: 7.5,
        itemStyle: { color: DOT_COLORS[m] }, z: 2, silent: true
      });
    }
    p.lines.filter(l => l[0] === m).forEach(l => {
      series.push({
        type: 'line', name: l[1] + ' ' + MU_NAMES[m], xAxisIndex: gi, yAxisIndex: gi,
        data: pair(l[2]), symbol: 'none', smooth: 0.35,
        lineStyle: Object.assign({ color: LINE_COLORS[m] }, LINE_TYPES[l[1]]),
        itemStyle: { color: LINE_COLORS[m] }, z: 3, silent: true
      });
    });
  }
});

// zero line on the Delta P / P panels
[4, 5].forEach(gi => {
  series.push({
    type: 'line', name: 'zero', xAxisIndex: gi, yAxisIndex: gi, data: [], symbol: 'none', z: 4,
    markLine: {
      silent: true, symbol: 'none', label: { show: false },
      lineStyle: { color: '#000', type: [3, 3.5], width: 3, cap: 'butt' },
      data: [{ yAxis: 0 }]
    }
  });
});

// legend-only series for the line orders
[['n = 2', 'n2'], ['n = 3', 'n3'], ['n = 4', 'n4']].forEach(([name, key]) => {
  series.push({
    type: 'line', name, xAxisIndex: 0, yAxisIndex: 0, data: [], symbol: 'none',
    lineStyle: Object.assign({ color: '#000' }, LINE_TYPES[key]), itemStyle: { color: '#000' }
  });
});

const tickFont = { fontSize: 18, color: '#000', fontFamily: FONT };
const nameFont = {
  fontSize: 21, color: '#000', fontFamily: FONT,
  rich: { i: { fontStyle: 'italic', fontSize: 21, fontFamily: FONT } }
};

const xAxis = gridPos.map((g, gi) => ({
  type: 'value', gridIndex: gi, min: 0.03, max: 0.30,
  splitLine: { show: false },
  axisLine: { show: true, onZero: false, lineStyle: { color: '#000', width: 1 } },
  axisTick: { show: true, length: 5, lineStyle: { color: '#000', width: 1 }, customValues: X_TICKS },
  axisLabel: Object.assign({ show: gi >= 4, customValues: X_TICKS, margin: 9,
    formatter: v => v.toFixed(2) }, tickFont),
  name: gi >= 4 ? '{i|k} [h/Mpc]' : '', nameLocation: 'middle', nameGap: 36,
  nameTextStyle: nameFont
}));

const yDefs = [
  { min: 900, max: 2000, ticks: KP_TICKS, fmt: v => String(v),
    name: '{i|kP}({i|k}) [(Mpc/h)²]', gap: 68 },
  { min: 0, max: 0.30, ticks: LN_TICKS, fmt: v => v.toFixed(2), name: '', gap: 70 },
  { min: -0.03, max: 0.03, ticks: DP_TICKS, fmt: v => v.toFixed(2).replace('-', '\u2212'),
    name: 'Δ{i|P}/{i|P}', gap: 82 }
];
const yAxis = gridPos.map((g, gi) => {
  const d = yDefs[Math.floor(gi / 2)];
  const left = gi % 2 === 0;
  return {
    type: 'value', gridIndex: gi, min: d.min, max: d.max,
    splitLine: { show: false },
    axisLine: { show: true, onZero: false, lineStyle: { color: '#000', width: 1 } },
    axisTick: { show: true, length: 5, lineStyle: { color: '#000', width: 1 }, customValues: d.ticks },
    axisLabel: Object.assign({ show: left, customValues: d.ticks, margin: 8, formatter: d.fmt }, tickFont),
    name: left ? d.name : '', nameLocation: 'middle', nameRotate: 90, nameGap: d.gap,
    nameTextStyle: nameFont
  };
});

const legendText = {
  fontSize: 20, color: '#000', fontFamily: FONT, lineHeight: 22, padding: [0, 0, 0, 11],
  rich: { i: { fontStyle: 'italic', fontSize: 20, fontFamily: FONT, lineHeight: 22 } }
};
const legendBase = {
  orient: 'vertical', top: 53, padding: 0, itemWidth: 40, itemHeight: 7, itemGap: 7.3,
  selectedMode: false, z: 6, textStyle: legendText,
  formatter: n => n.startsWith('μ') ? '{i|μ}' + n.slice(1) : n
};
// line entries: hide the marker drawn in the middle of the line icon
const lineItem = name => ({ name, itemStyle: { opacity: 0 } });
// a group made only of dots is placed by the left edge of its first dot
const legend = [
  Object.assign({ left: 323.5, data: ['μ = 0.1', 'μ = 0.3'] }, legendBase),
  Object.assign({ left: 477, data: ['μ = 0.5', lineItem('n = 2')] }, legendBase),
  Object.assign({ left: 880.5, data: ['μ = 0.7', 'μ = 0.9'] }, legendBase),
  Object.assign({ left: 1032, data: [lineItem('n = 3'), lineItem('n = 4')] }, legendBase)
];

const textEl = (x, y, text, size, align) => ({
  type: 'text', x, y, z: 10,
  style: { text, font: size + 'px "DejaVu Sans"', fill: '#000', align: align || 'center', verticalAlign: 'middle' }
});

const graphic = [
  textEl(369, 19, 'Moment Expansion', 22),
  textEl(910, 19, 'Fourier Streaming Model', 22),
  textEl(135, 846, 'z = 0.80', 20, 'left'),
  textEl(677, 846, '12.5 < log M < 13.0', 20, 'left'),
  { type: 'rect', z: 5, shape: { x: 299, y: 47, width: 314, height: 67, r: 4 },
    style: { fill: 'rgba(255,255,255,0.8)', stroke: '#cccccc', lineWidth: 1 } },
  { type: 'rect', z: 5, shape: { x: 856, y: 47, width: 299, height: 67, r: 4 },
    style: { fill: 'rgba(255,255,255,0.8)', stroke: '#cccccc', lineWidth: 1 } },
  // ln( (1+Δ²)/(1+Δr²) ) label, rotated
  { type: 'group', x: 30, y: 458, rotation: Math.PI / 2, children: [
    { type: 'text', x: -46, y: 0, style: { text: 'ln(', font: '22px "DejaVu Sans"', fill: '#000', align: 'left', verticalAlign: 'middle' } },
    { type: 'text', x: 8, y: -7, style: { text: '1 + Δ²', font: '14px "DejaVu Sans"', fill: '#000', align: 'center', verticalAlign: 'middle' } },
    { type: 'line', shape: { x1: -16, y1: 1, x2: 32, y2: 1 }, style: { stroke: '#000', lineWidth: 0.9 } },
    { type: 'text', x: 8, y: 9.5, style: { text: '1 + Δ²ᵣ', font: '14px "DejaVu Sans"', fill: '#000', align: 'center', verticalAlign: 'middle' } },
    { type: 'text', x: 33, y: 0, style: { text: ')', font: '22px "DejaVu Sans"', fill: '#000', align: 'left', verticalAlign: 'middle' } }
  ] }
];

const chart = echarts.init(document.getElementById('chart'), null, { renderer: 'canvas' });
chart.setOption({
  animation: false,
  backgroundColor: '#fff',
  textStyle: { fontFamily: FONT },
  grid: gridPos.map(g => ({
    left: g[0], top: g[1], width: g[2], height: g[3], containLabel: false, outerBoundsMode: 'none',
    show: true, borderColor: '#000', borderWidth: 1, backgroundColor: 'transparent'
  })),
  xAxis, yAxis, legend, graphic, series
});
</script>
</body>
</html>
